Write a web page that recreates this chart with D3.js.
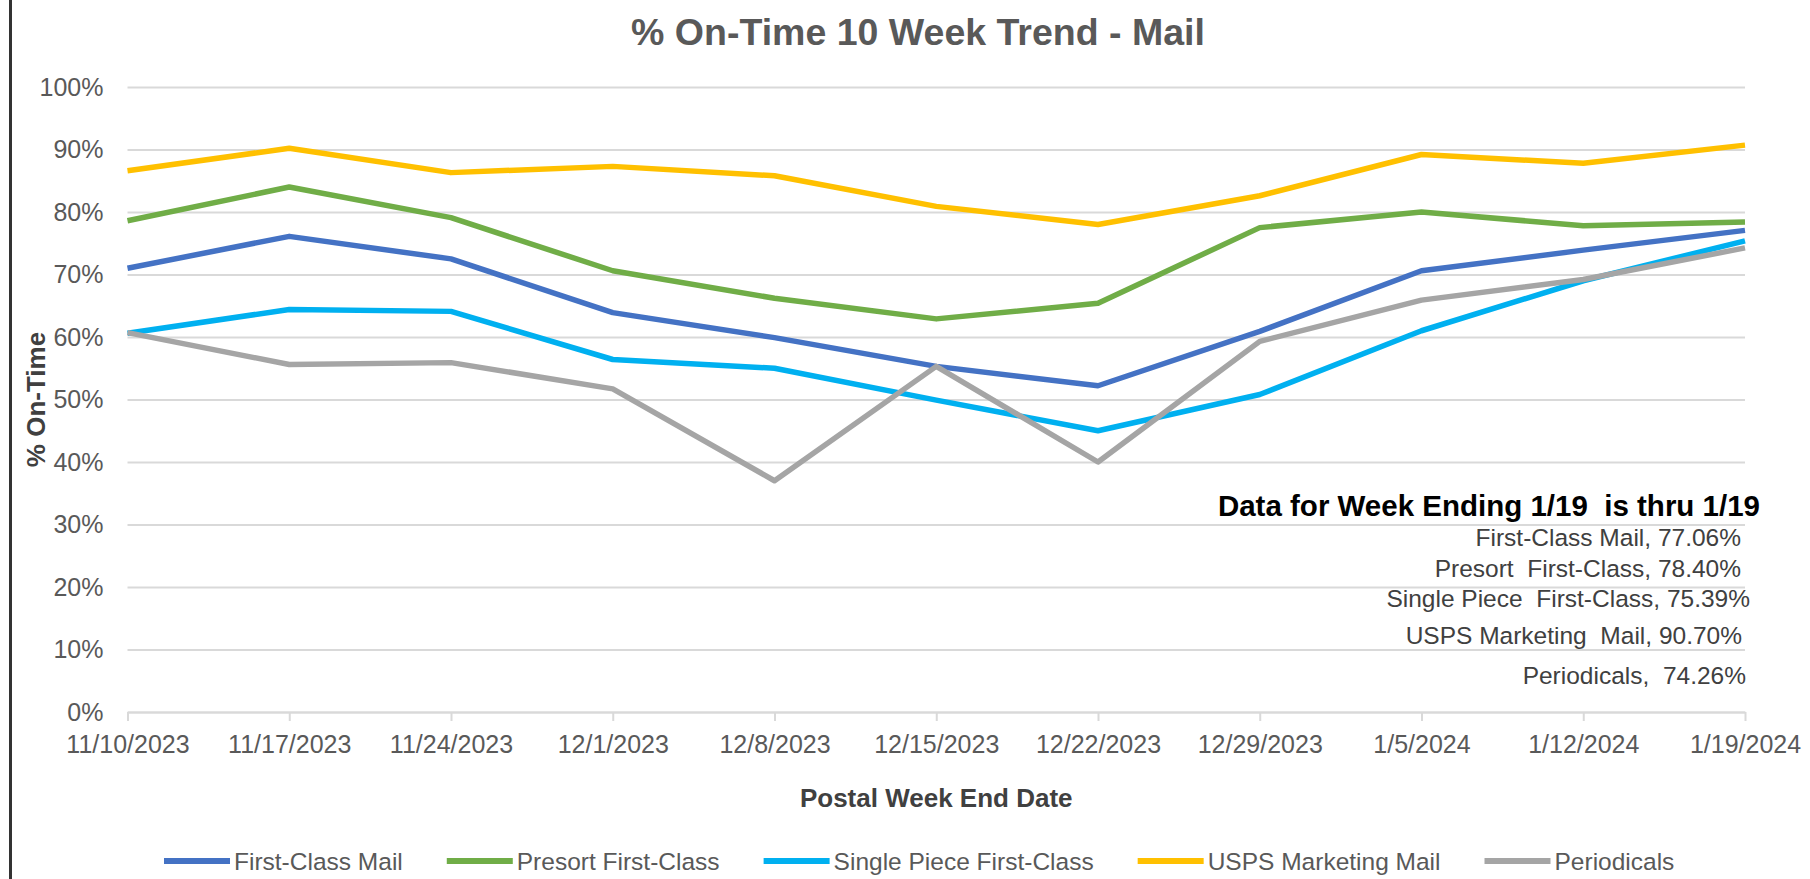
<!DOCTYPE html>
<html>
<head>
<meta charset="utf-8">
<script src="https://cdn.jsdelivr.net/npm/d3@7"></script>
<style>
  body { margin: 0; background: #fff; }
  svg { display: block; }
  text { font-family: "Liberation Sans", Arial, sans-serif; white-space: pre; }
</style>
</head>
<body>
<div id="chart"></div>
<script>
// weeks on the x axis
var weeks = ["11/10/2023", "11/17/2023", "11/24/2023", "12/1/2023", "12/8/2023", "12/15/2023",
             "12/22/2023", "12/29/2023", "1/5/2024", "1/12/2024", "1/19/2024"];

// % on-time per series
var firstClass  = [71.0, 76.1, 72.5, 63.9, 59.9, 55.3, 52.2, 60.9, 70.6, 73.9, 77.06];
var presort     = [78.6, 84.0, 79.1, 70.6, 66.2, 62.9, 65.4, 77.5, 80.0, 77.8, 78.40];
var singlePiece = [60.6, 64.4, 64.1, 56.4, 55.0, 49.9, 45.0, 50.8, 61.0, 69.0, 75.39];
var marketing   = [86.6, 90.2, 86.3, 87.3, 85.8, 80.9, 78.0, 82.6, 89.2, 87.8, 90.70];
var periodicals = [60.7, 55.6, 55.9, 51.7, 37.0, 55.3, 40.0, 59.3, 65.9, 69.2, 74.26];

var seriesNames = ["First-Class Mail", "Presort First-Class", "Single Piece First-Class",
                   "USPS Marketing Mail", "Periodicals"];
var yTicks = [0, 10, 20, 30, 40, 50, 60, 70, 80, 90, 100];

// the text box in the lower right
var noteTitle = "Data for Week Ending 1/19  is thru 1/19";
var noteLines = ["First-Class Mail, 77.06%", "Presort  First-Class, 78.40%",
                 "Single Piece  First-Class, 75.39%", "USPS Marketing  Mail, 90.70%",
                 "Periodicals,  74.26%"];

var series = [
    {name: seriesNames[0], values: firstClass,  color: "#4472C4"},
    {name: seriesNames[1], values: presort,     color: "#70AD47"},
    {name: seriesNames[2], values: singlePiece, color: "#00B0F0"},
    {name: seriesNames[3], values: marketing,   color: "#FFC000"},
    {name: seriesNames[4], values: periodicals, color: "#A5A5A5"}
];

var W = 1810, H = 879;
// plot box (careful: "top" is taken by window.top)
var plotL = 127.5, plotR = 1745, plotT = 87, plotB = 712;

var svg = d3.select("#chart").append("svg")
    .attr("width", W)
    .attr("height", H);

// dark rule on the left edge
svg.append("line")
    .attr("x1", 10.5).attr("x2", 10.5)
    .attr("y1", 0).attr("y2", H)
    .attr("stroke", "#333").attr("stroke-width", 3);

var x = d3.scalePoint().domain(weeks).range([plotL, plotR]);
var y = d3.scaleLinear().domain([0, 100]).range([plotB, plotT]);

// gridlines + y labels
var yAxis = svg.append("g")
    .attr("transform", "translate(" + plotL + ",0)")
    .call(d3.axisLeft(y).tickValues(yTicks)
        .tickSize(-(plotR - plotL)).tickPadding(24)
        .tickFormat(function(d) { return d + "%"; }));
yAxis.select(".domain").remove();
yAxis.selectAll(".tick line").attr("stroke", "#d9d9d9").attr("stroke-width", 2);
yAxis.selectAll(".tick text")
    .attr("fill", "#595959")
    .attr("font-size", "25px");

// x axis with tick marks
var xAxis = svg.append("g")
    .attr("transform", "translate(0," + plotB + ")")
    .call(d3.axisBottom(x).tickSize(9).tickSizeOuter(0).tickPadding(14));
xAxis.select(".domain").attr("stroke", "#d9d9d9").attr("stroke-width", 2);
xAxis.selectAll(".tick line").attr("stroke", "#d9d9d9").attr("stroke-width", 2);
xAxis.selectAll(".tick text")
    .attr("fill", "#595959")
    .attr("font-size", "25px");

// lines
var line = d3.line()
    .x(function(d, i) { return x(weeks[i]); })
    .y(function(d) { return y(d); });

svg.selectAll("path.series")
    .data(series)
    .enter().append("path")
    .attr("class", "series")
    .attr("d", function(d) { return line(d.values); })
    .attr("fill", "none")
    .attr("stroke", function(d) { return d.color; })
    .attr("stroke-width", 5.5)
    .attr("stroke-linejoin", "round");

// titles
svg.append("text")
    .attr("x", 918).attr("y", 45)
    .attr("text-anchor", "middle")
    .attr("font-size", "37.5px")
    .attr("font-weight", "bold")
    .attr("fill", "#595959")
    .text("% On-Time 10 Week Trend - Mail");

svg.append("text")
    .attr("transform", "translate(45," + (plotT + plotB) / 2 + ") rotate(-90)")
    .attr("text-anchor", "middle")
    .attr("font-size", "26px")
    .attr("font-weight", "bold")
    .attr("fill", "#404040")
    .text("% On-Time");

svg.append("text")
    .attr("x", (plotL + plotR) / 2).attr("y", 807)
    .attr("text-anchor", "middle")
    .attr("font-size", "26px")
    .attr("font-weight", "bold")
    .attr("fill", "#404040")
    .text("Postal Week End Date");

// note box
svg.append("text")
    .attr("x", 1760).attr("y", 516)
    .attr("text-anchor", "end")
    .attr("font-size", "29.5px")
    .attr("font-weight", "bold")
    .attr("fill", "#000")
    .text(noteTitle);

var noteX = [1741, 1741, 1750, 1742, 1746];
var noteY = [546, 577, 607, 644, 684];
svg.selectAll("text.note")
    .data(noteLines)
    .enter().append("text")
    .attr("class", "note")
    .attr("x", function(d, i) { return noteX[i]; })
    .attr("y", function(d, i) { return noteY[i]; })
    .attr("text-anchor", "end")
    .attr("font-size", "24.5px")
    .attr("fill", "#404040")
    .text(String);

// legend
var legend = svg.append("g");
var lx = 164, ly = 861;
series.forEach(function(s) {
    legend.append("line")
        .attr("x1", lx).attr("x2", lx + 66)
        .attr("y1", ly).attr("y2", ly)
        .attr("stroke", s.color).attr("stroke-width", 6);
    var t = legend.append("text")
        .attr("x", lx + 70).attr("y", ly + 9)
        .attr("font-size", "24.5px")
        .attr("fill", "#595959")
        .text(s.name);
    lx += 70 + t.node().getComputedTextLength() + 44;
});
</script>
</body>
</html>
